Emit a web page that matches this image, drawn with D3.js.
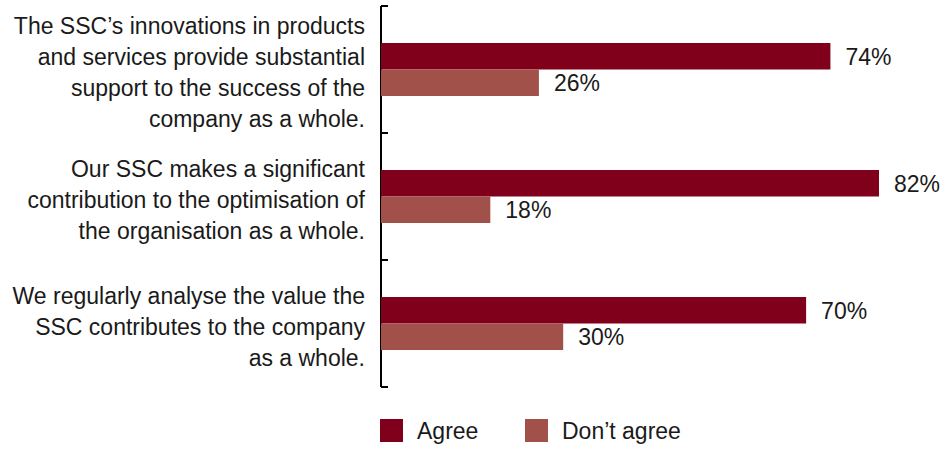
<!DOCTYPE html>
<html>
<head>
<meta charset="utf-8">
<script src="https://cdn.jsdelivr.net/npm/d3@7"></script>
<style>
  html, body { margin: 0; padding: 0; background: #fff; }
  svg text { font-family: "Liberation Sans", Arial, Helvetica, sans-serif; fill: #1a1a1a; }
</style>
</head>
<body>
<svg id="chart" width="951" height="449"></svg>
<script>
// Survey statements (each line of the wrapped label)
const statements = [
  ["The SSC\u2019s innovations in products", "and services provide substantial", "support to the success of the", "company as a whole."],
  ["Our SSC makes a significant", "contribution to the optimisation of", "the organisation as a whole."],
  ["We regularly analyse the value the", "SSC contributes to the company", "as a whole."]
];
const seriesNames = ["Agree", "Don\u2019t agree"];
const agree = [74, 82, 70];
const dontAgree = [26, 18, 30];
const seriesColors = ["#80001c", "#a1504a"];

const svg = d3.select("#chart");
const axisX = 381;
const fontSize = 23;

const y = d3.scaleBand().domain(d3.range(statements.length)).range([6, 387]);
const sub = d3.scaleBand().domain([0, 1]).range([0, 53]);
const x = d3.scaleLinear().domain([0, 82]).range([axisX, 879]);

const rows = statements.map((s, i) => ({ i, lines: s, values: [agree[i], dontAgree[i]] }));

// vertical axis with inward ticks at band boundaries
const axisG = svg.append("g");
axisG.append("line")
  .attr("x1", axisX).attr("x2", axisX)
  .attr("y1", y.range()[0]).attr("y2", y.range()[1])
  .attr("stroke", "#000").attr("stroke-width", 2);
const boundaries = d3.range(statements.length + 1).map(k => y.range()[0] + k * y.step());
axisG.selectAll("line.tick").data(boundaries).join("line")
  .attr("class", "tick")
  .attr("x1", axisX).attr("x2", axisX + 7)
  .attr("y1", d => d).attr("y2", d => d)
  .attr("stroke", "#000").attr("stroke-width", 2);

// bars and value labels
const groups = svg.selectAll("g.row").data(rows).join("g")
  .attr("class", "row")
  .attr("transform", d => `translate(0,${y(d.i) + y.bandwidth() / 2 - 26.5})`);

groups.selectAll("rect").data(d => d.values).join("rect")
  .attr("x", x(0))
  .attr("y", (v, j) => sub(j))
  .attr("width", v => x(v) - x(0))
  .attr("height", sub.bandwidth())
  .attr("fill", (v, j) => seriesColors[j]);

groups.selectAll("text.val").data(d => d.values).join("text")
  .attr("class", "val")
  .attr("x", v => x(v) + 15)
  .attr("y", (v, j) => sub(j) + sub.bandwidth() / 2)
  .attr("dy", "0.36em")
  .attr("font-size", fontSize)
  .text(v => v + "%");

// statement labels, right-aligned against the axis
const lineH = 31;
svg.selectAll("text.label").data(rows).join("text")
  .attr("class", "label")
  .attr("text-anchor", "end")
  .attr("font-size", fontSize)
  .attr("transform", d => `translate(365,${y(d.i) + y.bandwidth() / 2 + 3 - (d.lines.length - 1) * lineH / 2})`)
  .selectAll("tspan").data(d => d.lines).join("tspan")
  .attr("x", 0)
  .attr("y", (t, k) => k * lineH)
  .attr("dy", "0.36em")
  .text(t => t);

// legend
const legend = svg.append("g").attr("transform", "translate(380,419)");
const item = legend.selectAll("g").data(seriesNames).join("g")
  .attr("transform", (d, j) => `translate(${j * 145},0)`);
item.append("rect").attr("width", 23).attr("height", 23)
  .attr("fill", (d, j) => seriesColors[j]);
item.append("text").attr("x", 37).attr("y", 11.5).attr("dy", "0.36em")
  .attr("font-size", fontSize).text(d => d);
</script>
</body>
</html>
